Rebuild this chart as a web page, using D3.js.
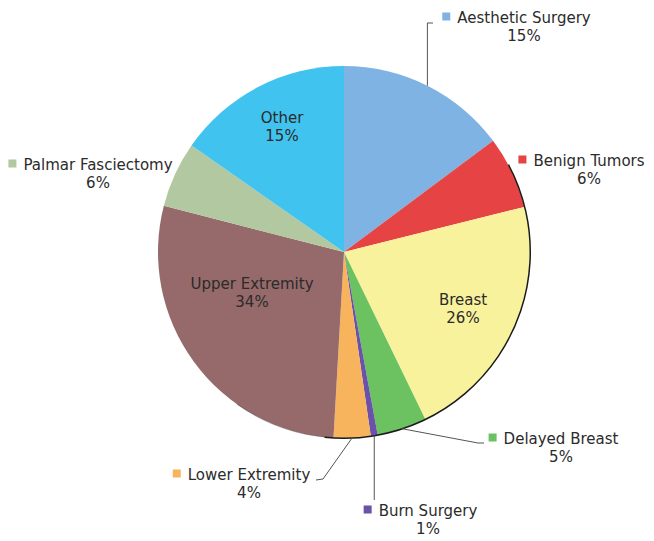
<!DOCTYPE html>
<html lang="en">
<head>
  <meta charset="UTF-8">
  <title>Surgery Categories Pie</title>
  <script src="https://d3js.org/d3.v7.min.js"></script>
  <style>
    body { margin: 0; background: #fff; }
    text { font-family: "DejaVu Sans", Verdana, sans-serif; font-size: 15px; fill: #2b2b2b; }
  </style>
</head>
<body>
  <div id="chart"></div>

  <script>
    // slice shares and the percentage labels shown
    const categories = ["Aesthetic Surgery", "Benign Tumors", "Breast", "Delayed Breast",
      "Burn Surgery", "Lower Extremity", "Upper Extremity", "Palmar Fasciectomy", "Other"];
    const values = [14.8, 6.3, 21.7, 4.3, 0.6, 3.2, 28.1, 5.7, 15.3];
    const pctLabels = ["15%", "6%", "26%", "5%", "1%", "4%", "34%", "6%", "15%"];
    const colors = ["#7fb3e3", "#e64444", "#f9f29c", "#6cc160", "#6a52a8",
      "#f8b45c", "#966a6a", "#b1c8a0", "#41c3ef"];

    const width = 654, height = 541;
    const cx = 344, cy = 252, radius = 186;

    const svg = d3.select("#chart").append("svg")
      .attr("width", width)
      .attr("height", height);

    const g = svg.append("g").attr("transform", "translate(" + cx + "," + cy + ")");

    const pie = d3.pie().sort(null).value(d => d.value);
    const arc = d3.arc().innerRadius(0).outerRadius(radius);

    const data = categories.map((c, i) => ({ name: c, value: values[i], pct: pctLabels[i], color: colors[i] }));
    const arcs = pie(data);

    g.selectAll("path.slice")
      .data(arcs)
      .enter()
      .append("path")
      .attr("class", "slice")
      .attr("d", arc)
      .attr("fill", d => d.data.color);

    // dark rim along the lower right edge
    g.append("path")
      .attr("d", d3.arc().innerRadius(radius - 0.5).outerRadius(radius + 1)
        .startAngle(62 * Math.PI / 180).endAngle(186 * Math.PI / 180)())
      .attr("fill", "#1a1a1a");
    g.append("path")
      .attr("d", d3.arc().innerRadius(radius - 0.3).outerRadius(radius + 0.6)
        .startAngle(186 * Math.PI / 180).endAngle(215 * Math.PI / 180)())
      .attr("fill", "#1a1a1a")
      .attr("opacity", 0.35);

    // where the labels sit (text centre x / baseline y, page coords)
    const labelLayout = {
      "Aesthetic Surgery":  { x: 524, y: 23, marker: true, leader: [[null, 23], [433, 23]] },
      "Benign Tumors":      { x: 589, y: 166, marker: true },
      "Breast":             { x: 463, y: 305 },
      "Delayed Breast":     { x: 561, y: 444, marker: true, leader: [[478, 443], [484, 443]] },
      "Burn Surgery":       { x: 428, y: 516, marker: true, leader: [[null, 500]] },
      "Lower Extremity":    { x: 249, y: 480, marker: true, leader: [[323, 479], [316, 480]] },
      "Upper Extremity":    { x: 252, y: 289 },
      "Palmar Fasciectomy": { x: 98, y: 170, marker: true },
      "Other":              { x: 282, y: 123 }
    };

    // leader lines start at the middle of each slice's outer edge
    arcs.forEach(d => {
      const lay = labelLayout[d.data.name];
      if (!lay.leader) return;
      const mid = (d.startAngle + d.endAngle) / 2;
      const sx = cx + radius * Math.sin(mid);
      const sy = cy - radius * Math.cos(mid);
      const pts = [[sx, sy]].concat(lay.leader.map(p => [p[0] === null ? sx : p[0], p[1]]));
      svg.append("path")
        .attr("d", d3.line()(pts))
        .attr("fill", "none")
        .attr("stroke", "#555")
        .attr("stroke-width", 1);
    });

    arcs.forEach(d => {
      const lay = labelLayout[d.data.name];
      const name = svg.append("text")
        .attr("x", lay.x)
        .attr("y", lay.y)
        .attr("text-anchor", "middle")
        .text(d.data.name);
      svg.append("text")
        .attr("x", lay.x)
        .attr("y", lay.y + 18)
        .attr("text-anchor", "middle")
        .text(d.data.pct);
      if (lay.marker) {
        const w = name.node().getComputedTextLength();
        svg.append("rect")
          .attr("x", lay.x - w / 2 - 15)
          .attr("y", lay.y - 10.5)
          .attr("width", 8)
          .attr("height", 8)
          .attr("fill", d.data.color);
      }
    });
  </script>
</body>
</html>
